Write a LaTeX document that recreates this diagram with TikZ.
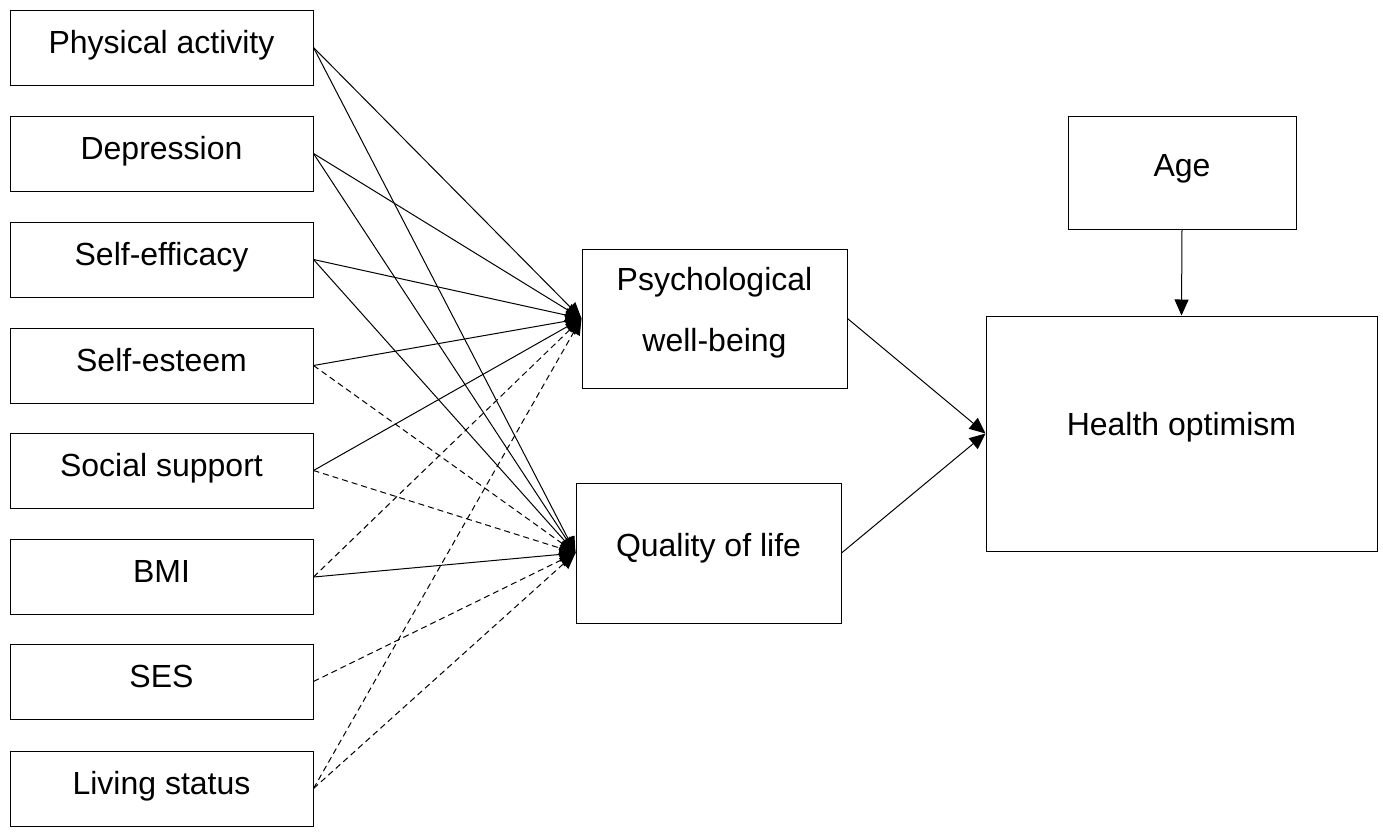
\documentclass[tikz,border=0pt]{standalone}
\usepackage{fontspec}
\setmainfont{Liberation Sans}
\usetikzlibrary{arrows.meta}

\begin{document}
\begin{tikzpicture}[x=0.5pt,y=-0.5pt,
  font=\fontsize{16pt}{19pt}\selectfont,
  box/.style={draw, line width=0.5pt, inner sep=0pt},
  var/.style={box, minimum width=151.5pt, text height=21.5pt, text depth=16pt},
  sig/.style={line width=0.5pt, -{Triangle[length=8pt,width=7pt]}},
  nonsig/.style={sig, dash pattern=on 3pt off 2pt}]
\useasboundingbox (0,0) rectangle (1383,832);
% predictors
\foreach \n/\y/\t in {phys/47.5/Physical activity, dep/153.5/Depression,
  eff/259.5/Self-efficacy, est/365.5/Self-esteem, soc/470.5/Social support,
  bmi/577/BMI, ses/681.5/SES, liv/788.5/Living status}
  \node[var] (\n) at (161.5,\y) {\t};
% mediators
\node[box, minimum width=132.5pt, align=center, text height=51pt, text depth=18.5pt,
  font=\fontsize{16pt}{30.5pt}\selectfont] (pwb) at (714.5,318.5) {Psychological\\well-being};
\node[box, minimum width=132.5pt, text height=36.5pt, text depth=33.5pt] (qol) at (708.5,553) {Quality of life};
% outcome
\node[box, minimum width=114pt, text height=30pt, text depth=26.5pt] (age) at (1182,172.5) {Age};
\node[box, minimum width=195.5pt, text height=59.5pt, text depth=58pt] (ho) at (1181.5,433.5) {Health optimism};
% paths
\foreach \a in {phys,dep,eff,est,soc}
  \draw[sig] (\a.east) -- (pwb.west);
\foreach \a in {bmi,liv}
  \draw[nonsig] (\a.east) -- (pwb.west);
\foreach \a in {phys,dep,eff,bmi}
  \draw[sig] (\a.east) -- (qol.west);
\foreach \a in {est,soc,ses,liv}
  \draw[nonsig] (\a.east) -- (qol.west);
\draw[sig] (pwb.east) -- (ho.west);
\draw[sig] (qol.east) -- (ho.west);
\draw[sig] (age.south) -- (ho.north);
\end{tikzpicture}
\end{document}
